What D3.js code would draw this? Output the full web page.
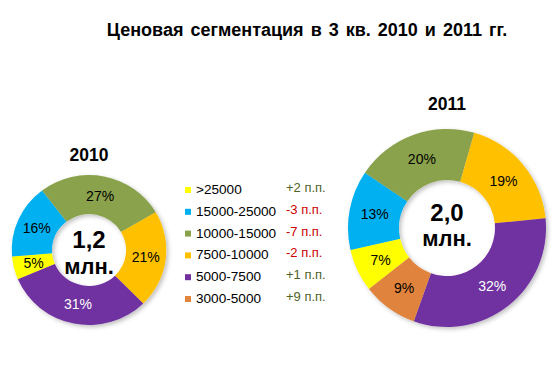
<!DOCTYPE html>
<html>
<head>
<meta charset="utf-8">
<script src="https://cdn.jsdelivr.net/npm/d3@7"></script>
<style>
  body { margin: 0; background: #fff; }
  text { font-family: "Liberation Sans", Arial, sans-serif; }
</style>
</head>
<body>
<div id="chart"></div>
<script>
// data
var categories = [">25000", "15000-25000", "10000-15000", "7500-10000", "5000-7500", "3000-5000"];
var colors = ["#ffff00", "#00b0f0", "#8aa24c", "#ffc000", "#7030a0", "#e0843e"];
var share2010 = [5, 16, 27, 21, 31, 0];
var share2011 = [7, 13, 20, 19, 32, 9];
var changes = ["+2 п.п.", "-3 п.п.", "-7 п.п.", "-2 п.п.", "+1 п.п.", "+9 п.п."];
var totals = ["1,2", "2,0"];
var years = ["2010", "2011"];

var width = 560, height = 374;

var svg = d3.select("#chart")
  .append("svg")
    .attr("width", width)
    .attr("height", height);

var defs = svg.append("defs");
defs.append("filter")
    .attr("id", "shadow")
    .attr("x", "-20%").attr("y", "-20%")
    .attr("width", "140%").attr("height", "140%")
  .append("feDropShadow")
    .attr("dx", 2).attr("dy", 2)
    .attr("stdDeviation", 2)
    .attr("flood-color", "#000")
    .attr("flood-opacity", 0.25);

// title
svg.append("text")
    .attr("x", 307)
    .attr("y", 36)
    .attr("text-anchor", "middle")
    .style("font-size", "18px")
    .style("font-weight", "bold")
    .style("word-spacing", "2px")
    .text("Ценовая сегментация в 3 кв. 2010 и 2011 гг.");

// donut settings
var donuts = [
  {year: years[0], total: totals[0], values: share2010, cx: 89, cy: 250, r: 75, r0: 36, sx: 1.03, start: 247, yearY: 161, bigY: 248, mlnY: 274},
  {year: years[1], total: totals[1], values: share2011, cx: 447, cy: 228, r: 99, r0: 48, sx: 1, start: 232, yearY: 110, bigY: 221, mlnY: 246}
];

donuts.forEach(function(dn) {
  var pie = d3.pie()
    .sort(null)
    .value(function(d) { return d; })
    .startAngle(dn.start * Math.PI / 180)
    .endAngle(dn.start * Math.PI / 180 + 2 * Math.PI);

  var arc = d3.arc().innerRadius(dn.r0).outerRadius(dn.r);
  var arcs = pie(dn.values).map(function(a, i) { a.i = i; return a; })
    .filter(function(a) { return a.data > 0; });

  var g = svg.append("g")
      .attr("transform", "translate(" + dn.cx + "," + dn.cy + ")");

  g.append("g")
      .attr("transform", "scale(" + dn.sx + ",1)")
      .attr("filter", "url(#shadow)")
    .selectAll("path")
    .data(arcs)
    .join("path")
      .attr("d", arc)
      .attr("fill", function(d) { return colors[d.i]; });

  // percent labels
  g.selectAll(".pct")
    .data(arcs)
    .join("text")
      .attr("class", "pct")
      .attr("x", function(d) { return arc.centroid(d)[0] * dn.sx; })
      .attr("y", function(d) { return arc.centroid(d)[1] + 5; })
      .attr("text-anchor", "middle")
      .style("font-size", "14px")
      .attr("fill", function(d) { return d.i === 4 ? "#fff" : "#000"; })
      .text(function(d) { return d.data + "%"; });

  // year
  svg.append("text")
      .attr("x", dn.cx)
      .attr("y", dn.yearY)
      .attr("text-anchor", "middle")
      .style("font-size", "17.5px")
      .style("font-weight", "bold")
      .text(dn.year);

  // total in the hole
  svg.append("text")
      .attr("x", dn.cx)
      .attr("y", dn.bigY)
      .attr("text-anchor", "middle")
      .style("font-size", "24px")
      .style("font-weight", "bold")
      .text(dn.total);
  svg.append("text")
      .attr("x", dn.cx)
      .attr("y", dn.mlnY)
      .attr("text-anchor", "middle")
      .style("font-size", "22px")
      .style("font-weight", "bold")
      .text("млн.");
});

// legend
var ly = d3.scaleLinear().domain([0, 5]).range([194, 303]);
var legend = svg.append("g");

legend.selectAll("rect")
  .data(categories)
  .join("rect")
    .attr("x", 185)
    .attr("y", function(d, i) { return ly(i) - 7; })
    .attr("width", 6)
    .attr("height", 6)
    .attr("fill", function(d, i) { return colors[i]; });

legend.selectAll(".lab")
  .data(categories)
  .join("text")
    .attr("class", "lab")
    .attr("x", 196)
    .attr("y", function(d, i) { return ly(i); })
    .style("font-size", "13.6px")
    .text(function(d) { return d; });

legend.selectAll(".chg")
  .data(changes)
  .join("text")
    .attr("class", "chg")
    .attr("x", 286)
    .attr("y", function(d, i) { return ly(i) - 2; })
    .style("font-size", "13px")
    .attr("fill", function(d) { return d.charAt(0) === "-" ? "#cc0000" : "#4f6228"; })
    .text(function(d) { return d; });
</script>
</body>
</html>
